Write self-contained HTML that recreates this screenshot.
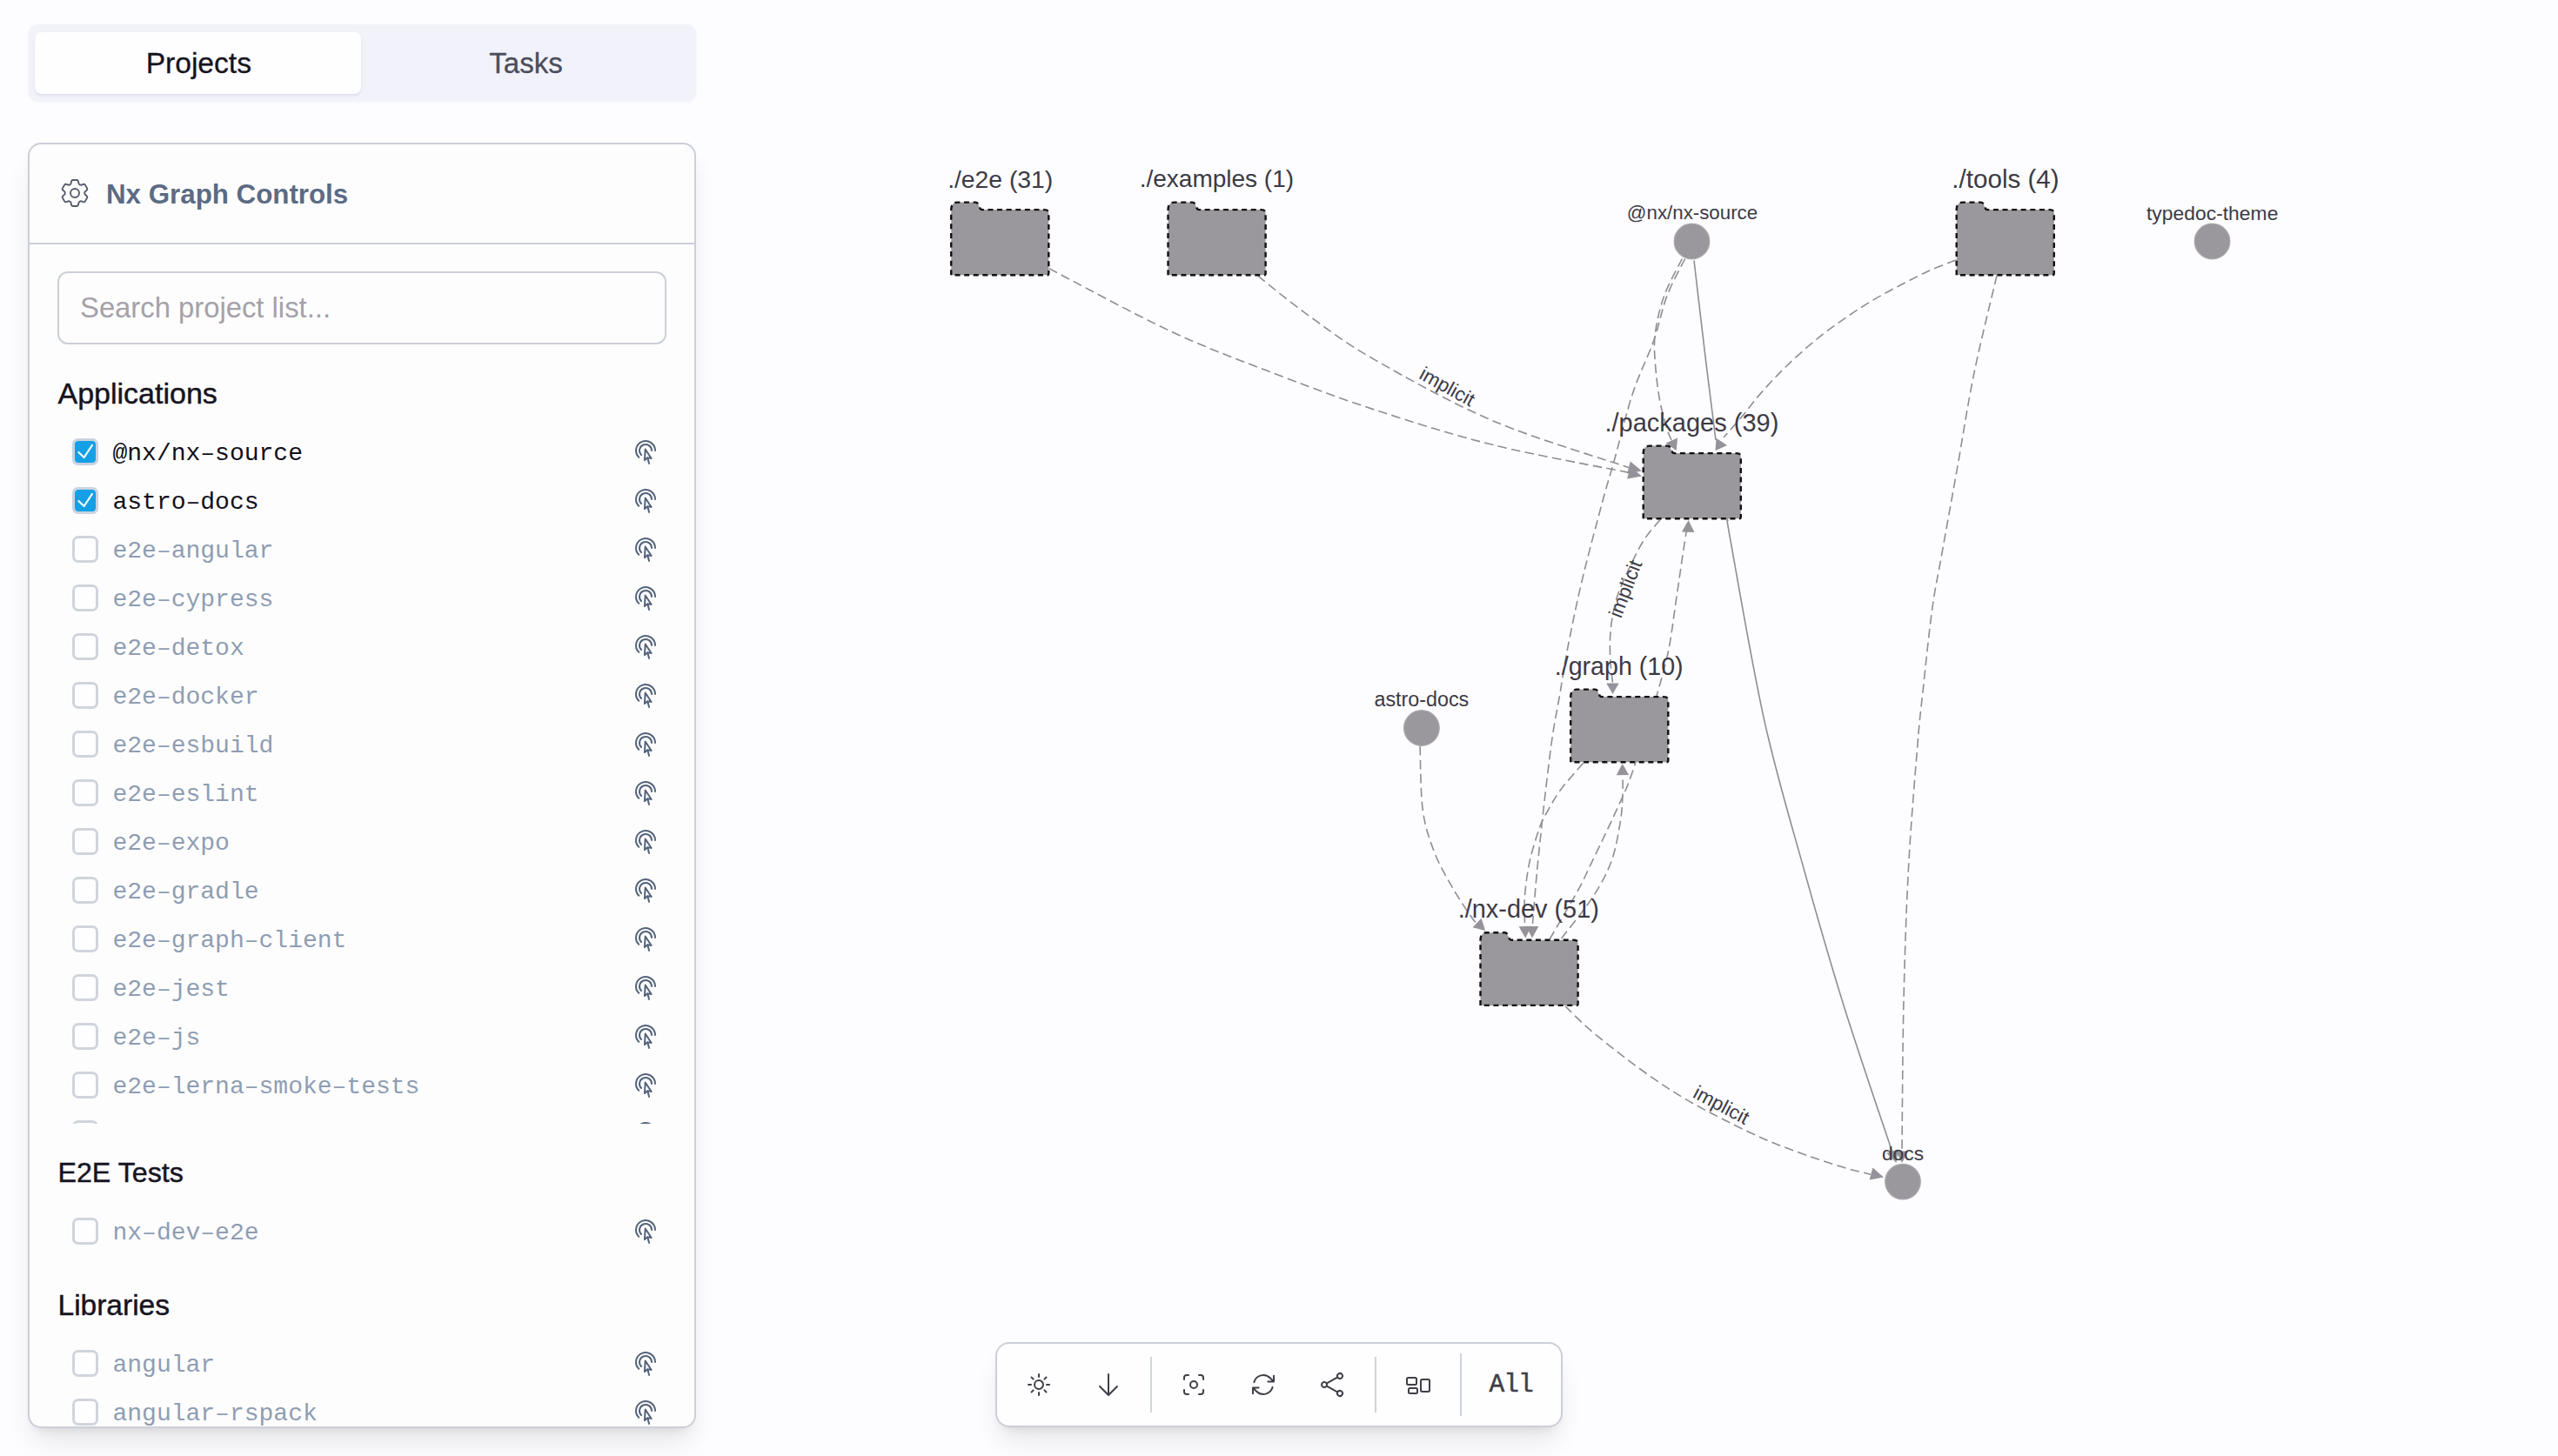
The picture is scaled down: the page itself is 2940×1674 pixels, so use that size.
<!DOCTYPE html><html><head><meta charset="utf-8"><title>Nx Graph</title><style>html,body{margin:0;padding:0;}body{width:2940px;height:1674px;overflow:hidden;background:#fdfcfe;position:relative;font-family:'Liberation Sans', sans-serif;}</style></head><body>
<svg style="position:absolute;left:0;top:0" width="2940" height="1674" viewBox="0 0 2940 1674">
<path d="M1205.6,308.6 C1229.1,320.7 1302.1,360.7 1346.4,381.3 C1390.7,401.9 1432.1,416.9 1471.5,432.0 C1510.9,447.1 1541.7,458.7 1582.7,472.0 C1623.7,485.3 1668.9,499.9 1717.3,511.8 C1765.7,523.7 1847.0,538.2 1873.0,543.5" fill="none" stroke="#8f8d93" stroke-width="1.6" stroke-dasharray="10.6 5.3"/>
<path d="M1445.7,317.2 C1455.2,324.6 1480.3,345.7 1502.7,361.8 C1525.1,377.9 1544.2,393.2 1580.0,413.6 C1615.8,434.0 1668.6,463.8 1717.3,484.4 C1766.0,505.0 1846.2,528.6 1872.0,537.5" fill="none" stroke="#8f8d93" stroke-width="1.6" stroke-dasharray="10.6 5.3"/>
<path d="M1947.0,299.5 C1949.2,317.9 1955.8,375.6 1960.0,410.0 C1964.2,444.4 1970.0,490.0 1972.0,506.0" fill="none" stroke="#8f8d93" stroke-width="1.6"/>
<path d="M1933.3,297.5 C1929.9,304.6 1917.8,325.8 1912.7,340.0 C1907.6,354.2 1904.1,370.1 1902.4,383.0 C1900.7,395.9 1901.5,404.4 1902.4,417.3 C1903.3,430.2 1905.3,447.7 1907.6,460.3 C1909.9,472.9 1913.8,485.4 1916.0,493.0 C1918.2,500.6 1920.2,503.8 1921.0,506.0" fill="none" stroke="#8f8d93" stroke-width="1.6" stroke-dasharray="10.6 5.3"/>
<path d="M2247.8,299.0 C2242.7,301.1 2227.9,306.5 2217.3,311.3 C2206.7,316.1 2195.3,322.0 2184.3,327.8 C2173.3,333.6 2162.3,339.3 2151.3,345.9 C2140.3,352.5 2129.4,359.7 2118.4,367.4 C2107.4,375.1 2096.4,383.0 2085.4,392.1 C2074.4,401.2 2062.6,411.9 2052.4,421.8 C2042.2,431.7 2032.6,442.1 2024.4,451.4 C2016.2,460.7 2010.2,469.2 2003.0,477.8 C1995.8,486.4 1984.7,498.8 1981.0,503.0" fill="none" stroke="#8f8d93" stroke-width="1.6" stroke-dasharray="10.6 5.3"/>
<path d="M1936.7,297.5 C1933.2,304.6 1922.0,324.3 1916.0,340.0 C1910.0,355.7 1907.2,373.0 1900.7,391.6 C1894.2,410.2 1884.2,429.1 1876.7,451.7 C1869.2,474.3 1862.0,505.6 1856.0,527.0 C1850.0,548.4 1847.3,556.0 1840.9,580.0 C1834.5,604.0 1824.0,643.0 1817.5,670.7 C1811.0,698.4 1805.8,724.5 1801.6,746.0 C1797.4,767.5 1795.5,782.7 1792.5,800.0 C1789.5,817.3 1786.8,828.8 1783.8,850.0 C1780.8,871.2 1777.2,902.0 1774.4,927.0 C1771.6,952.0 1768.9,977.5 1766.7,1000.0 C1764.5,1022.5 1762.4,1051.7 1761.5,1062.0" fill="none" stroke="#8f8d93" stroke-width="1.6" stroke-dasharray="10.6 5.3"/>
<path d="M1908.0,597.5 C1904.7,601.7 1894.8,612.1 1888.4,622.5 C1882.0,632.9 1874.5,649.0 1869.5,659.6 C1864.5,670.2 1861.5,677.5 1858.7,686.0 C1856.0,694.5 1854.4,702.5 1853.0,710.7 C1851.6,718.9 1850.8,726.9 1850.5,735.4 C1850.2,743.9 1850.5,753.7 1851.0,762.0 C1851.5,770.3 1853.1,781.2 1853.5,785.0" fill="none" stroke="#8f8d93" stroke-width="1.6" stroke-dasharray="10.6 5.3"/>
<path d="M1781.0,1080.0 C1786.5,1070.5 1806.3,1036.9 1814.0,1023.0 C1821.7,1009.1 1822.4,1006.0 1827.0,996.5 C1831.6,987.0 1837.2,975.4 1841.7,966.0 C1846.2,956.6 1850.3,948.0 1854.0,940.0 C1857.7,932.0 1861.2,924.2 1864.0,918.0 C1866.8,911.8 1868.0,909.8 1870.6,903.0 C1873.2,896.2 1876.1,888.3 1879.7,877.0 C1883.3,865.7 1888.0,847.8 1892.0,835.0 C1896.0,822.2 1899.7,814.8 1904.0,800.0 C1908.3,785.2 1914.2,765.0 1918.0,746.0 C1921.8,727.0 1923.7,707.8 1927.0,686.0 C1930.3,664.2 1935.4,627.5 1937.6,615.0 C1939.8,602.5 1939.6,611.7 1940.0,611.0" fill="none" stroke="#8f8d93" stroke-width="1.6" stroke-dasharray="10.6 5.3"/>
<path d="M1986.0,597.8 C1986.5,601.5 1981.7,581.5 1988.7,620.0 C1995.7,658.5 2013.8,765.5 2027.9,828.8 C2042.0,892.1 2058.3,945.4 2073.5,1000.0 C2088.7,1054.6 2102.3,1102.3 2119.2,1156.5 C2136.1,1210.7 2165.7,1296.9 2175.0,1325.0" fill="none" stroke="#8f8d93" stroke-width="1.6"/>
<path d="M2295.0,317.0 C2290.7,335.6 2276.6,391.3 2269.0,428.4 C2261.4,465.5 2255.5,505.0 2249.3,539.6 C2243.1,574.2 2236.7,609.5 2232.0,636.0 C2227.3,662.5 2224.6,672.7 2221.0,698.3 C2217.4,723.9 2213.4,763.6 2210.6,789.7 C2207.8,815.8 2206.8,820.6 2204.0,855.0 C2201.2,889.4 2196.3,946.8 2193.6,996.0 C2190.9,1045.2 2189.3,1095.3 2188.0,1150.0 C2186.7,1204.7 2186.3,1295.0 2186.0,1324.0" fill="none" stroke="#8f8d93" stroke-width="1.6" stroke-dasharray="10.6 5.3"/>
<path d="M1632.1,858.0 C1632.6,870.4 1632.5,911.8 1635.4,932.4 C1638.3,953.0 1643.5,966.7 1649.4,981.8 C1655.3,996.9 1663.8,1010.6 1670.9,1023.0 C1678.1,1035.4 1687.8,1049.7 1692.3,1056.0 C1696.8,1062.3 1697.0,1060.2 1698.0,1061.0" fill="none" stroke="#8f8d93" stroke-width="1.6" stroke-dasharray="10.6 5.3"/>
<path d="M1819.6,877.3 C1815.3,882.4 1800.8,898.4 1793.7,908.0 C1786.7,917.6 1781.3,927.8 1777.3,935.0 C1773.3,942.2 1772.8,942.1 1769.6,951.3 C1766.4,960.5 1761.1,976.7 1758.2,990.0 C1755.3,1003.3 1753.3,1019.0 1752.4,1031.3 C1751.5,1043.6 1752.6,1058.5 1752.6,1064.0" fill="none" stroke="#8f8d93" stroke-width="1.6" stroke-dasharray="10.6 5.3"/>
<path d="M1794.5,1079.0 C1800.5,1071.0 1821.1,1046.1 1830.7,1031.3 C1840.3,1016.5 1846.9,1004.1 1852.1,990.0 C1857.3,975.9 1859.9,958.5 1862.0,946.5 C1864.1,934.5 1864.3,926.8 1864.8,917.7 C1865.3,908.6 1865.1,896.3 1865.2,892.0" fill="none" stroke="#8f8d93" stroke-width="1.6" stroke-dasharray="10.6 5.3"/>
<path d="M1798.9,1156.7 C1803.1,1160.8 1813.6,1171.9 1824.2,1181.2 C1834.8,1190.5 1849.9,1202.5 1862.8,1212.4 C1875.7,1222.3 1888.8,1231.9 1901.4,1240.6 C1914.0,1249.3 1925.4,1256.7 1938.5,1264.4 C1951.6,1272.1 1965.5,1279.3 1980.1,1286.7 C1994.7,1294.1 2010.9,1302.2 2026.2,1308.9 C2041.5,1315.6 2057.1,1321.3 2072.2,1326.8 C2087.3,1332.2 2103.8,1337.7 2116.8,1341.6 C2129.8,1345.5 2144.5,1348.8 2150.0,1350.2" fill="none" stroke="#8f8d93" stroke-width="1.6" stroke-dasharray="10.6 5.3"/>
<path d="M1887.0,547.5 L1870.1,550.5 L1873.9,536.5 Z" fill="#959399"/>
<path d="M1887.0,541.5 L1870.1,544.5 L1873.9,530.5 Z" fill="#959399"/>
<path d="M1985.0,512.0 L1971.4,518.2 L1972.6,503.8 Z" fill="#959399"/>
<path d="M1914.4,509.5 L1928.1,503.6 L1926.7,518.0 Z" fill="#959399"/>
<path d="M1853.6,798.0 L1846.2,785.6 L1860.6,785.4 Z" fill="#959399"/>
<path d="M1940.6,598.0 L1947.4,611.9 L1933.0,611.5 Z" fill="#959399"/>
<path d="M1864.7,878.0 L1872.1,891.1 L1857.7,891.3 Z" fill="#959399"/>
<path d="M1753.3,1078.5 L1745.6,1065.3 L1760.0,1064.7 Z" fill="#959399"/>
<path d="M1761.0,1078.5 L1754.0,1064.9 L1768.4,1065.1 Z" fill="#959399"/>
<path d="M1707.1,1070.0 L1692.6,1066.2 L1702.6,1055.8 Z" fill="#959399"/>
<path d="M2165.0,1353.5 L2148.6,1356.4 L2152.4,1342.6 Z" fill="#959399"/>
<path d="M2179.5,1337.0 L2168.2,1325.8 L2181.8,1321.2 Z" fill="#959399"/>
<path d="M2186.0,1337.0 L2178.8,1323.5 L2193.2,1323.5 Z" fill="#959399"/>
<path d="M1093.2,316.3 L1093.2,241.6 Q1093.2,232.6 1100.2,232.6 L1121.2,232.6 Q1122.8,232.6 1124.0,234.4 L1126.7,240.1 Q1127.6,241.1 1129.2,241.1 L1200.3,241.1 Q1205.3,241.1 1205.3,245.1 L1205.3,314.3 Q1205.3,316.3 1203.3,316.3 Z" fill="#9a989c" stroke="#111" stroke-width="2.4" stroke-dasharray="6 4.6"/>
<path d="M1342.5,316.3 L1342.5,241.6 Q1342.5,232.6 1349.5,232.6 L1370.5,232.6 Q1372.1,232.6 1373.3,234.4 L1376.0,240.1 Q1376.9,241.1 1378.5,241.1 L1449.6,241.1 Q1454.6,241.1 1454.6,245.1 L1454.6,314.3 Q1454.6,316.3 1452.6,316.3 Z" fill="#9a989c" stroke="#111" stroke-width="2.4" stroke-dasharray="6 4.6"/>
<path d="M2248.7,316.3 L2248.7,241.6 Q2248.7,232.6 2255.7,232.6 L2276.7,232.6 Q2278.3,232.6 2279.5,234.4 L2282.2,240.1 Q2283.1,241.1 2284.7,241.1 L2355.8,241.1 Q2360.8,241.1 2360.8,245.1 L2360.8,314.3 Q2360.8,316.3 2358.8,316.3 Z" fill="#9a989c" stroke="#111" stroke-width="2.4" stroke-dasharray="6 4.6"/>
<path d="M1888.7,596.3 L1888.7,521.6 Q1888.7,512.6 1895.7,512.6 L1916.7,512.6 Q1918.3,512.6 1919.5,514.4 L1922.2,520.1 Q1923.1,521.1 1924.7,521.1 L1995.8,521.1 Q2000.8,521.1 2000.8,525.1 L2000.8,594.3 Q2000.8,596.3 1998.8,596.3 Z" fill="#9a989c" stroke="#111" stroke-width="2.4" stroke-dasharray="6 4.6"/>
<path d="M1805.2,876.3 L1805.2,801.6 Q1805.2,792.6 1812.2,792.6 L1833.2,792.6 Q1834.8,792.6 1836.0,794.4 L1838.7,800.1 Q1839.6,801.1 1841.2,801.1 L1912.3,801.1 Q1917.3,801.1 1917.3,805.1 L1917.3,874.3 Q1917.3,876.3 1915.3,876.3 Z" fill="#9a989c" stroke="#111" stroke-width="2.4" stroke-dasharray="6 4.6"/>
<path d="M1701.5,1155.9 L1701.5,1081.2 Q1701.5,1072.2 1708.5,1072.2 L1729.5,1072.2 Q1731.1,1072.2 1732.3,1074.0 L1735.0,1079.7 Q1735.9,1080.7 1737.5,1080.7 L1808.6,1080.7 Q1813.6,1080.7 1813.6,1084.7 L1813.6,1153.9 Q1813.6,1155.9 1811.6,1155.9 Z" fill="#9a989c" stroke="#111" stroke-width="2.4" stroke-dasharray="6 4.6"/>
<circle cx="1944.5" cy="277.5" r="20.3" fill="#9a989c" stroke="#a9a7ad" stroke-width="1.2"/>
<circle cx="2542.6" cy="277.5" r="20.3" fill="#9a989c" stroke="#a9a7ad" stroke-width="1.2"/>
<circle cx="1633.9" cy="837.0" r="20.3" fill="#9a989c" stroke="#a9a7ad" stroke-width="1.2"/>
<circle cx="2187.0" cy="1358.6" r="20.3" fill="#9a989c" stroke="#a9a7ad" stroke-width="1.2"/>
</svg>
<div style="position:absolute;left:549.7px;width:1200px;text-align:center;top:192.1px;font:400 28.3px/28.3px 'Liberation Sans', sans-serif;color:#3b3a45;white-space:pre;">./e2e (31)</div>
<div style="position:absolute;left:798.4px;width:1200px;text-align:center;top:192.4px;font:400 28.0px/28.0px 'Liberation Sans', sans-serif;color:#3b3a45;white-space:pre;">./examples (1)</div>
<div style="position:absolute;left:1705.0px;width:1200px;text-align:center;top:191.0px;font:400 29.6px/29.6px 'Liberation Sans', sans-serif;color:#3b3a45;white-space:pre;">./tools (4)</div>
<div style="position:absolute;left:1344.4px;width:1200px;text-align:center;top:471.6px;font:400 29.0px/29.0px 'Liberation Sans', sans-serif;color:#3b3a45;white-space:pre;">./packages (39)</div>
<div style="position:absolute;left:1260.7px;width:1200px;text-align:center;top:751.9px;font:400 28.6px/28.6px 'Liberation Sans', sans-serif;color:#3b3a45;white-space:pre;">./graph (10)</div>
<div style="position:absolute;left:1156.8px;width:1200px;text-align:center;top:1031.2px;font:400 28.9px/28.9px 'Liberation Sans', sans-serif;color:#3b3a45;white-space:pre;">./nx-dev (51)</div>
<div style="position:absolute;left:1345.0px;width:1200px;text-align:center;top:234.4px;font:400 22.3px/22.3px 'Liberation Sans', sans-serif;color:#3b3a45;white-space:pre;">@nx/nx-source</div>
<div style="position:absolute;left:1942.7px;width:1200px;text-align:center;top:233.9px;font:400 22.9px/22.9px 'Liberation Sans', sans-serif;color:#3b3a45;white-space:pre;">typedoc-theme</div>
<div style="position:absolute;left:1033.9px;width:1200px;text-align:center;top:793.1px;font:400 23.3px/23.3px 'Liberation Sans', sans-serif;color:#3b3a45;white-space:pre;">astro-docs</div>
<div style="position:absolute;left:1587.0px;width:1200px;text-align:center;top:1315.1px;font:400 22.8px/22.8px 'Liberation Sans', sans-serif;color:#3b3a45;white-space:pre;">docs</div>
<div style="position:absolute;left:1562.5px;top:434.2px;width:200px;text-align:center;font:400 22.5px/22.5px 'Liberation Sans', sans-serif;color:#3b3a45;transform:rotate(29deg);transform-origin:100px 11.25px">implicit</div>
<div style="position:absolute;left:1768.8px;top:666.2px;width:200px;text-align:center;font:400 22.5px/22.5px 'Liberation Sans', sans-serif;color:#3b3a45;transform:rotate(-69deg);transform-origin:100px 11.25px">implicit</div>
<div style="position:absolute;left:1878.3px;top:1260.2px;width:200px;text-align:center;font:400 22.5px/22.5px 'Liberation Sans', sans-serif;color:#3b3a45;transform:rotate(28deg);transform-origin:100px 11.25px">implicit</div>
<div style="position:absolute;left:32.5px;top:28px;width:767.5px;height:88px;border-radius:11px;background:#f2f2fb;box-shadow:0 1px 3px rgba(120,120,160,0.10)"></div>
<div style="position:absolute;left:40px;top:37px;width:375px;height:71px;border-radius:8px;background:#fefdff;box-shadow:0 2px 3px rgba(60,60,100,0.10)"></div>
<div style="position:absolute;left:-371.7px;width:1200px;text-align:center;top:55.6px;font:400 33.6px/33.6px 'Liberation Sans', sans-serif;color:#15131d;white-space:pre;-webkit-text-stroke:0.3px #15131d;">Projects</div>
<div style="position:absolute;left:4.5px;width:1200px;text-align:center;top:56.1px;font:400 33px/33px 'Liberation Sans', sans-serif;color:#4b4d5a;white-space:pre;-webkit-text-stroke:0.3px #4b4d5a;">Tasks</div>
<div style="position:absolute;left:32px;top:164px;width:764px;height:1473.5px;border:2px solid #cbcfd8;border-radius:15px;background:#fefdfe;box-shadow:0 20px 30px -6px rgba(0,0,0,0.10),0 8px 12px -8px rgba(0,0,0,0.10);overflow:hidden">
<div style="position:absolute;left:0;top:113px;width:100%;height:2px;background:#cbcfd8"></div>
</div>
<svg style="position:absolute;left:66.2px;top:202.0px" width="40" height="40" viewBox="0 0 24 24" fill="none" stroke="#545b6b" stroke-width="1.15" stroke-linecap="round" stroke-linejoin="round"><path d="M9.594 3.94c.09-.542.56-.94 1.11-.94h2.593c.55 0 1.02.398 1.11.94l.213 1.281c.063.374.313.686.645.87.074.04.147.083.22.127.325.196.72.257 1.075.124l1.217-.456a1.125 1.125 0 0 1 1.37.49l1.296 2.247a1.125 1.125 0 0 1-.26 1.431l-1.003.827c-.293.241-.438.613-.43.992a7.723 7.723 0 0 1 0 .255c-.008.378.137.75.43.991l1.004.827c.424.35.534.955.26 1.43l-1.298 2.247a1.125 1.125 0 0 1-1.369.491l-1.217-.456c-.355-.133-.75-.072-1.076.124a6.47 6.47 0 0 1-.22.128c-.331.183-.581.495-.644.869l-.213 1.281c-.09.543-.56.94-1.11.94h-2.594c-.55 0-1.019-.398-1.11-.94l-.213-1.281c-.062-.374-.312-.686-.644-.87a6.52 6.52 0 0 1-.22-.127c-.325-.196-.72-.257-1.076-.124l-1.217.456a1.125 1.125 0 0 1-1.369-.49l-1.297-2.247a1.125 1.125 0 0 1 .26-1.431l1.004-.827c.292-.24.437-.613.43-.991a6.932 6.932 0 0 1 0-.255c.007-.38-.138-.751-.43-.992l-1.004-.827a1.125 1.125 0 0 1-.26-1.43l1.297-2.247a1.125 1.125 0 0 1 1.37-.491l1.216.456c.356.133.751.072 1.076-.124.072-.044.146-.086.22-.128.332-.183.582-.495.644-.869l.214-1.28Z"/><path d="M15 12a3 3 0 1 1-6 0 3 3 0 0 1 6 0Z"/></svg>
<div style="position:absolute;left:122.0px;top:207.5px;font:700 31.3px/31.3px 'Liberation Sans', sans-serif;color:#5b6b84;white-space:pre;">Nx Graph Controls</div>
<div style="position:absolute;left:66px;top:312px;width:696px;height:80px;border:2px solid #cbcfd8;border-radius:12px;background:#fefdfe"></div>
<div style="position:absolute;left:92.0px;top:337.7px;font:400 32.8px/32.8px 'Liberation Sans', sans-serif;color:#a4a1a8;white-space:pre;">Search project list...</div>
<div style="position:absolute;left:66.5px;top:435.0px;font:400 34px/34px 'Liberation Sans', sans-serif;color:#16141e;white-space:pre;-webkit-text-stroke:0.45px #16141e;">Applications</div>
<div style="position:absolute;left:66.5px;top:1332.0px;font:400 32.2px/32.2px 'Liberation Sans', sans-serif;color:#16141e;white-space:pre;-webkit-text-stroke:0.45px #16141e;">E2E Tests</div>
<div style="position:absolute;left:66.5px;top:1483.6px;font:400 33.5px/33.5px 'Liberation Sans', sans-serif;color:#16141e;white-space:pre;-webkit-text-stroke:0.45px #16141e;">Libraries</div>
<div style="position:absolute;left:0;top:480px;width:800px;height:812px;overflow:hidden">
<div style="position:absolute;left:0;top:-480px;width:800px;height:1674px">
<div style="position:absolute;left:82.5px;top:504.4px;width:24.5px;height:24.5px;border:3.5px solid #cad3e0;border-radius:6.5px;background:#14a0e7;background-clip:padding-box"><div style="position:absolute;left:0;top:0;width:25px;height:25px"><svg style="position:absolute;left:0;top:0" width="25" height="25" viewBox="0 0 25 25"><path d="M4.4 13 L10.6 19 L19.9 4.8" fill="none" stroke="#fff" stroke-width="2.1" stroke-linecap="round" stroke-linejoin="round"/></svg></div></div>
<div style="position:absolute;left:129.5px;top:507.5px;font:400 28px/28px 'Liberation Mono', monospace;color:#100f18;white-space:pre;">@nx/nx–source</div>
<svg style="position:absolute;left:725.8px;top:503.9px" width="32" height="32" viewBox="0 0 24 24" fill="none" stroke="#53637a" stroke-width="1.5" stroke-linecap="round" stroke-linejoin="round"><path d="M15.042 21.672 13.684 16.6m0 0-2.51 2.225.569-9.47 5.227 7.917-3.286-.672Zm-7.518-.267A8.25 8.25 0 1 1 20.25 10.5M8.288 14.212A5.25 5.25 0 1 1 17.25 10.5"/></svg>
<div style="position:absolute;left:82.5px;top:560.4px;width:24.5px;height:24.5px;border:3.5px solid #cad3e0;border-radius:6.5px;background:#14a0e7;background-clip:padding-box"><div style="position:absolute;left:0;top:0;width:25px;height:25px"><svg style="position:absolute;left:0;top:0" width="25" height="25" viewBox="0 0 25 25"><path d="M4.4 13 L10.6 19 L19.9 4.8" fill="none" stroke="#fff" stroke-width="2.1" stroke-linecap="round" stroke-linejoin="round"/></svg></div></div>
<div style="position:absolute;left:129.5px;top:563.5px;font:400 28px/28px 'Liberation Mono', monospace;color:#100f18;white-space:pre;">astro–docs</div>
<svg style="position:absolute;left:725.8px;top:559.9px" width="32" height="32" viewBox="0 0 24 24" fill="none" stroke="#53637a" stroke-width="1.5" stroke-linecap="round" stroke-linejoin="round"><path d="M15.042 21.672 13.684 16.6m0 0-2.51 2.225.569-9.47 5.227 7.917-3.286-.672Zm-7.518-.267A8.25 8.25 0 1 1 20.25 10.5M8.288 14.212A5.25 5.25 0 1 1 17.25 10.5"/></svg>
<div style="position:absolute;left:82.5px;top:616.4px;width:24.5px;height:24.5px;border:3.5px solid #d0d4dc;border-radius:7px;background:#fefdff"></div>
<div style="position:absolute;left:129.5px;top:619.5px;font:400 28px/28px 'Liberation Mono', monospace;color:#8e9db2;white-space:pre;">e2e–angular</div>
<svg style="position:absolute;left:725.8px;top:615.9px" width="32" height="32" viewBox="0 0 24 24" fill="none" stroke="#53637a" stroke-width="1.5" stroke-linecap="round" stroke-linejoin="round"><path d="M15.042 21.672 13.684 16.6m0 0-2.51 2.225.569-9.47 5.227 7.917-3.286-.672Zm-7.518-.267A8.25 8.25 0 1 1 20.25 10.5M8.288 14.212A5.25 5.25 0 1 1 17.25 10.5"/></svg>
<div style="position:absolute;left:82.5px;top:672.4px;width:24.5px;height:24.5px;border:3.5px solid #d0d4dc;border-radius:7px;background:#fefdff"></div>
<div style="position:absolute;left:129.5px;top:675.5px;font:400 28px/28px 'Liberation Mono', monospace;color:#8e9db2;white-space:pre;">e2e–cypress</div>
<svg style="position:absolute;left:725.8px;top:671.9px" width="32" height="32" viewBox="0 0 24 24" fill="none" stroke="#53637a" stroke-width="1.5" stroke-linecap="round" stroke-linejoin="round"><path d="M15.042 21.672 13.684 16.6m0 0-2.51 2.225.569-9.47 5.227 7.917-3.286-.672Zm-7.518-.267A8.25 8.25 0 1 1 20.25 10.5M8.288 14.212A5.25 5.25 0 1 1 17.25 10.5"/></svg>
<div style="position:absolute;left:82.5px;top:728.4px;width:24.5px;height:24.5px;border:3.5px solid #d0d4dc;border-radius:7px;background:#fefdff"></div>
<div style="position:absolute;left:129.5px;top:731.5px;font:400 28px/28px 'Liberation Mono', monospace;color:#8e9db2;white-space:pre;">e2e–detox</div>
<svg style="position:absolute;left:725.8px;top:727.9px" width="32" height="32" viewBox="0 0 24 24" fill="none" stroke="#53637a" stroke-width="1.5" stroke-linecap="round" stroke-linejoin="round"><path d="M15.042 21.672 13.684 16.6m0 0-2.51 2.225.569-9.47 5.227 7.917-3.286-.672Zm-7.518-.267A8.25 8.25 0 1 1 20.25 10.5M8.288 14.212A5.25 5.25 0 1 1 17.25 10.5"/></svg>
<div style="position:absolute;left:82.5px;top:784.4px;width:24.5px;height:24.5px;border:3.5px solid #d0d4dc;border-radius:7px;background:#fefdff"></div>
<div style="position:absolute;left:129.5px;top:787.5px;font:400 28px/28px 'Liberation Mono', monospace;color:#8e9db2;white-space:pre;">e2e–docker</div>
<svg style="position:absolute;left:725.8px;top:783.9px" width="32" height="32" viewBox="0 0 24 24" fill="none" stroke="#53637a" stroke-width="1.5" stroke-linecap="round" stroke-linejoin="round"><path d="M15.042 21.672 13.684 16.6m0 0-2.51 2.225.569-9.47 5.227 7.917-3.286-.672Zm-7.518-.267A8.25 8.25 0 1 1 20.25 10.5M8.288 14.212A5.25 5.25 0 1 1 17.25 10.5"/></svg>
<div style="position:absolute;left:82.5px;top:840.4px;width:24.5px;height:24.5px;border:3.5px solid #d0d4dc;border-radius:7px;background:#fefdff"></div>
<div style="position:absolute;left:129.5px;top:843.5px;font:400 28px/28px 'Liberation Mono', monospace;color:#8e9db2;white-space:pre;">e2e–esbuild</div>
<svg style="position:absolute;left:725.8px;top:839.9px" width="32" height="32" viewBox="0 0 24 24" fill="none" stroke="#53637a" stroke-width="1.5" stroke-linecap="round" stroke-linejoin="round"><path d="M15.042 21.672 13.684 16.6m0 0-2.51 2.225.569-9.47 5.227 7.917-3.286-.672Zm-7.518-.267A8.25 8.25 0 1 1 20.25 10.5M8.288 14.212A5.25 5.25 0 1 1 17.25 10.5"/></svg>
<div style="position:absolute;left:82.5px;top:896.4px;width:24.5px;height:24.5px;border:3.5px solid #d0d4dc;border-radius:7px;background:#fefdff"></div>
<div style="position:absolute;left:129.5px;top:899.5px;font:400 28px/28px 'Liberation Mono', monospace;color:#8e9db2;white-space:pre;">e2e–eslint</div>
<svg style="position:absolute;left:725.8px;top:895.9px" width="32" height="32" viewBox="0 0 24 24" fill="none" stroke="#53637a" stroke-width="1.5" stroke-linecap="round" stroke-linejoin="round"><path d="M15.042 21.672 13.684 16.6m0 0-2.51 2.225.569-9.47 5.227 7.917-3.286-.672Zm-7.518-.267A8.25 8.25 0 1 1 20.25 10.5M8.288 14.212A5.25 5.25 0 1 1 17.25 10.5"/></svg>
<div style="position:absolute;left:82.5px;top:952.4px;width:24.5px;height:24.5px;border:3.5px solid #d0d4dc;border-radius:7px;background:#fefdff"></div>
<div style="position:absolute;left:129.5px;top:955.5px;font:400 28px/28px 'Liberation Mono', monospace;color:#8e9db2;white-space:pre;">e2e–expo</div>
<svg style="position:absolute;left:725.8px;top:951.9px" width="32" height="32" viewBox="0 0 24 24" fill="none" stroke="#53637a" stroke-width="1.5" stroke-linecap="round" stroke-linejoin="round"><path d="M15.042 21.672 13.684 16.6m0 0-2.51 2.225.569-9.47 5.227 7.917-3.286-.672Zm-7.518-.267A8.25 8.25 0 1 1 20.25 10.5M8.288 14.212A5.25 5.25 0 1 1 17.25 10.5"/></svg>
<div style="position:absolute;left:82.5px;top:1008.4px;width:24.5px;height:24.5px;border:3.5px solid #d0d4dc;border-radius:7px;background:#fefdff"></div>
<div style="position:absolute;left:129.5px;top:1011.5px;font:400 28px/28px 'Liberation Mono', monospace;color:#8e9db2;white-space:pre;">e2e–gradle</div>
<svg style="position:absolute;left:725.8px;top:1007.9px" width="32" height="32" viewBox="0 0 24 24" fill="none" stroke="#53637a" stroke-width="1.5" stroke-linecap="round" stroke-linejoin="round"><path d="M15.042 21.672 13.684 16.6m0 0-2.51 2.225.569-9.47 5.227 7.917-3.286-.672Zm-7.518-.267A8.25 8.25 0 1 1 20.25 10.5M8.288 14.212A5.25 5.25 0 1 1 17.25 10.5"/></svg>
<div style="position:absolute;left:82.5px;top:1064.4px;width:24.5px;height:24.5px;border:3.5px solid #d0d4dc;border-radius:7px;background:#fefdff"></div>
<div style="position:absolute;left:129.5px;top:1067.5px;font:400 28px/28px 'Liberation Mono', monospace;color:#8e9db2;white-space:pre;">e2e–graph–client</div>
<svg style="position:absolute;left:725.8px;top:1063.9px" width="32" height="32" viewBox="0 0 24 24" fill="none" stroke="#53637a" stroke-width="1.5" stroke-linecap="round" stroke-linejoin="round"><path d="M15.042 21.672 13.684 16.6m0 0-2.51 2.225.569-9.47 5.227 7.917-3.286-.672Zm-7.518-.267A8.25 8.25 0 1 1 20.25 10.5M8.288 14.212A5.25 5.25 0 1 1 17.25 10.5"/></svg>
<div style="position:absolute;left:82.5px;top:1120.4px;width:24.5px;height:24.5px;border:3.5px solid #d0d4dc;border-radius:7px;background:#fefdff"></div>
<div style="position:absolute;left:129.5px;top:1123.5px;font:400 28px/28px 'Liberation Mono', monospace;color:#8e9db2;white-space:pre;">e2e–jest</div>
<svg style="position:absolute;left:725.8px;top:1119.9px" width="32" height="32" viewBox="0 0 24 24" fill="none" stroke="#53637a" stroke-width="1.5" stroke-linecap="round" stroke-linejoin="round"><path d="M15.042 21.672 13.684 16.6m0 0-2.51 2.225.569-9.47 5.227 7.917-3.286-.672Zm-7.518-.267A8.25 8.25 0 1 1 20.25 10.5M8.288 14.212A5.25 5.25 0 1 1 17.25 10.5"/></svg>
<div style="position:absolute;left:82.5px;top:1176.4px;width:24.5px;height:24.5px;border:3.5px solid #d0d4dc;border-radius:7px;background:#fefdff"></div>
<div style="position:absolute;left:129.5px;top:1179.5px;font:400 28px/28px 'Liberation Mono', monospace;color:#8e9db2;white-space:pre;">e2e–js</div>
<svg style="position:absolute;left:725.8px;top:1175.9px" width="32" height="32" viewBox="0 0 24 24" fill="none" stroke="#53637a" stroke-width="1.5" stroke-linecap="round" stroke-linejoin="round"><path d="M15.042 21.672 13.684 16.6m0 0-2.51 2.225.569-9.47 5.227 7.917-3.286-.672Zm-7.518-.267A8.25 8.25 0 1 1 20.25 10.5M8.288 14.212A5.25 5.25 0 1 1 17.25 10.5"/></svg>
<div style="position:absolute;left:82.5px;top:1232.4px;width:24.5px;height:24.5px;border:3.5px solid #d0d4dc;border-radius:7px;background:#fefdff"></div>
<div style="position:absolute;left:129.5px;top:1235.5px;font:400 28px/28px 'Liberation Mono', monospace;color:#8e9db2;white-space:pre;">e2e–lerna–smoke–tests</div>
<svg style="position:absolute;left:725.8px;top:1231.9px" width="32" height="32" viewBox="0 0 24 24" fill="none" stroke="#53637a" stroke-width="1.5" stroke-linecap="round" stroke-linejoin="round"><path d="M15.042 21.672 13.684 16.6m0 0-2.51 2.225.569-9.47 5.227 7.917-3.286-.672Zm-7.518-.267A8.25 8.25 0 1 1 20.25 10.5M8.288 14.212A5.25 5.25 0 1 1 17.25 10.5"/></svg>
<div style="position:absolute;left:82.5px;top:1288.4px;width:24.5px;height:24.5px;border:3.5px solid #d0d4dc;border-radius:7px;background:#fefdff"></div>
<div style="position:absolute;left:129.5px;top:1291.5px;font:400 28px/28px 'Liberation Mono', monospace;color:#8e9db2;white-space:pre;">e2e–next</div>
<svg style="position:absolute;left:725.8px;top:1287.9px" width="32" height="32" viewBox="0 0 24 24" fill="none" stroke="#53637a" stroke-width="1.5" stroke-linecap="round" stroke-linejoin="round"><path d="M15.042 21.672 13.684 16.6m0 0-2.51 2.225.569-9.47 5.227 7.917-3.286-.672Zm-7.518-.267A8.25 8.25 0 1 1 20.25 10.5M8.288 14.212A5.25 5.25 0 1 1 17.25 10.5"/></svg>
</div></div>
<div style="position:absolute;left:82.5px;top:1400.4px;width:24.5px;height:24.5px;border:3.5px solid #d0d4dc;border-radius:7px;background:#fefdff"></div>
<div style="position:absolute;left:129.5px;top:1403.5px;font:400 28px/28px 'Liberation Mono', monospace;color:#8e9db2;white-space:pre;">nx–dev–e2e</div>
<svg style="position:absolute;left:725.8px;top:1399.9px" width="32" height="32" viewBox="0 0 24 24" fill="none" stroke="#53637a" stroke-width="1.5" stroke-linecap="round" stroke-linejoin="round"><path d="M15.042 21.672 13.684 16.6m0 0-2.51 2.225.569-9.47 5.227 7.917-3.286-.672Zm-7.518-.267A8.25 8.25 0 1 1 20.25 10.5M8.288 14.212A5.25 5.25 0 1 1 17.25 10.5"/></svg>
<div style="position:absolute;left:0;top:1530px;width:800px;height:110px;overflow:hidden">
<div style="position:absolute;left:0;top:-1530px;width:800px;height:1674px">
<div style="position:absolute;left:82.5px;top:1552.4px;width:24.5px;height:24.5px;border:3.5px solid #d0d4dc;border-radius:7px;background:#fefdff"></div>
<div style="position:absolute;left:129.5px;top:1555.5px;font:400 28px/28px 'Liberation Mono', monospace;color:#8e9db2;white-space:pre;">angular</div>
<svg style="position:absolute;left:725.8px;top:1551.9px" width="32" height="32" viewBox="0 0 24 24" fill="none" stroke="#53637a" stroke-width="1.5" stroke-linecap="round" stroke-linejoin="round"><path d="M15.042 21.672 13.684 16.6m0 0-2.51 2.225.569-9.47 5.227 7.917-3.286-.672Zm-7.518-.267A8.25 8.25 0 1 1 20.25 10.5M8.288 14.212A5.25 5.25 0 1 1 17.25 10.5"/></svg>
<div style="position:absolute;left:82.5px;top:1608.4px;width:24.5px;height:24.5px;border:3.5px solid #d0d4dc;border-radius:7px;background:#fefdff"></div>
<div style="position:absolute;left:129.5px;top:1611.5px;font:400 28px/28px 'Liberation Mono', monospace;color:#8e9db2;white-space:pre;">angular–rspack</div>
<svg style="position:absolute;left:725.8px;top:1607.9px" width="32" height="32" viewBox="0 0 24 24" fill="none" stroke="#53637a" stroke-width="1.5" stroke-linecap="round" stroke-linejoin="round"><path d="M15.042 21.672 13.684 16.6m0 0-2.51 2.225.569-9.47 5.227 7.917-3.286-.672Zm-7.518-.267A8.25 8.25 0 1 1 20.25 10.5M8.288 14.212A5.25 5.25 0 1 1 17.25 10.5"/></svg>
<div style="position:absolute;left:82.5px;top:1664.4px;width:24.5px;height:24.5px;border:3.5px solid #d0d4dc;border-radius:7px;background:#fefdff"></div>
<div style="position:absolute;left:129.5px;top:1667.5px;font:400 28px/28px 'Liberation Mono', monospace;color:#8e9db2;white-space:pre;">angular–rsbuild</div>
<svg style="position:absolute;left:725.8px;top:1663.9px" width="32" height="32" viewBox="0 0 24 24" fill="none" stroke="#53637a" stroke-width="1.5" stroke-linecap="round" stroke-linejoin="round"><path d="M15.042 21.672 13.684 16.6m0 0-2.51 2.225.569-9.47 5.227 7.917-3.286-.672Zm-7.518-.267A8.25 8.25 0 1 1 20.25 10.5M8.288 14.212A5.25 5.25 0 1 1 17.25 10.5"/></svg>
</div></div>
<div style="position:absolute;left:1144px;top:1542.5px;width:648px;height:94px;border:2px solid #cbcfd8;border-radius:16px;background:#fefdff;box-shadow:0 20px 30px -6px rgba(0,0,0,0.10),0 8px 12px -8px rgba(0,0,0,0.10)"></div>
<svg style="position:absolute;left:1177.5px;top:1576.4px" width="32" height="32" viewBox="0 0 24 24" fill="none" stroke="#3f3f48" stroke-width="1.5" stroke-linecap="round" stroke-linejoin="round"><path d="M12 3v2.25m6.364.386-1.591 1.591M21 12h-2.25m-.386 6.364-1.591-1.591M12 18.75V21m-4.773-4.227-1.591 1.591M5.25 12H3m4.227-4.773L5.636 5.636M15.75 12a3.75 3.75 0 1 1-7.5 0 3.75 3.75 0 0 1 7.5 0Z"/></svg>
<svg style="position:absolute;left:1257.5px;top:1576.2px" width="32" height="32" viewBox="0 0 24 24" fill="none" stroke="#3f3f48" stroke-width="1.5" stroke-linecap="round" stroke-linejoin="round"><path d="M19.5 13.5 12 21m0 0-7.5-7.5M12 21V3"/></svg>
<svg style="position:absolute;left:1355.8px;top:1576.2px" width="32" height="32" viewBox="0 0 24 24" fill="none" stroke="#3f3f48" stroke-width="1.5" stroke-linecap="round" stroke-linejoin="round"><path d="M7.5 3.75H6A2.25 2.25 0 0 0 3.75 6v1.5M16.5 3.75H18A2.25 2.25 0 0 1 20.25 6v1.5m0 9V18A2.25 2.25 0 0 1 18 20.25h-1.5m-9 0H6A2.25 2.25 0 0 1 3.75 18v-1.5M15 12a3 3 0 1 1-6 0 3 3 0 0 1 6 0Z"/></svg>
<svg style="position:absolute;left:1436.0px;top:1576.2px" width="32" height="32" viewBox="0 0 24 24" fill="none" stroke="#3f3f48" stroke-width="1.5" stroke-linecap="round" stroke-linejoin="round"><path d="M16.023 9.348h4.992v-.001M2.985 19.644v-4.992m0 0h4.992m-4.993 0 3.181 3.183a8.25 8.25 0 0 0 13.803-3.7M4.031 9.865a8.25 8.25 0 0 1 13.803-3.7l3.181 3.182m0-4.991v4.99"/></svg>
<svg style="position:absolute;left:1514.5px;top:1576.0px" width="32" height="32" viewBox="0 0 24 24" fill="none" stroke="#3f3f48" stroke-width="1.5" stroke-linecap="round" stroke-linejoin="round"><path d="M7.217 10.907a2.25 2.25 0 1 0 0 2.186m0-2.186c.18.324.283.696.283 1.093s-.103.77-.283 1.093m0-2.186 9.566-5.314m-9.566 7.5 9.566 5.314m0 0a2.25 2.25 0 1 0 3.935 2.186 2.25 2.25 0 0 0-3.935-2.186Zm0-12.814a2.25 2.25 0 1 0 3.933-2.185 2.25 2.25 0 0 0-3.933 2.185Z"/></svg>
<svg style="position:absolute;left:1614.0px;top:1576.0px" width="32" height="32" viewBox="0 0 24 24" fill="none" stroke="#3f3f48" stroke-width="1.5" stroke-linecap="round" stroke-linejoin="round"><path d="M2.25 7.125C2.25 6.504 2.754 6 3.375 6h6c.621 0 1.125.504 1.125 1.125v3.75c0 .621-.504 1.125-1.125 1.125h-6a1.125 1.125 0 0 1-1.125-1.125v-3.75ZM14.25 8.625c0-.621.504-1.125 1.125-1.125h5.25c.621 0 1.125.504 1.125 1.125v8.25c0 .621-.504 1.125-1.125 1.125h-5.25a1.125 1.125 0 0 1-1.125-1.125v-8.25ZM3.75 16.125c0-.621.504-1.125 1.125-1.125h5.25c.621 0 1.125.504 1.125 1.125v2.25c0 .621-.504 1.125-1.125 1.125h-5.25a1.125 1.125 0 0 1-1.125-1.125v-2.25Z"/></svg>
<div style="position:absolute;left:1321.7px;top:1560px;width:2px;height:64px;background:#cfd4dc"></div>
<div style="position:absolute;left:1579.6px;top:1560px;width:2px;height:64px;background:#cfd4dc"></div>
<div style="position:absolute;left:1677.5px;top:1556px;width:2px;height:72px;background:#cfd4dc"></div>
<div style="position:absolute;left:1711.5px;top:1578.2px;font:400 29.5px/29.5px 'Liberation Mono', monospace;color:#3f3f48;white-space:pre;-webkit-text-stroke:0.5px #3f3f48;letter-spacing:-1.0px;">All</div>
</body></html>
